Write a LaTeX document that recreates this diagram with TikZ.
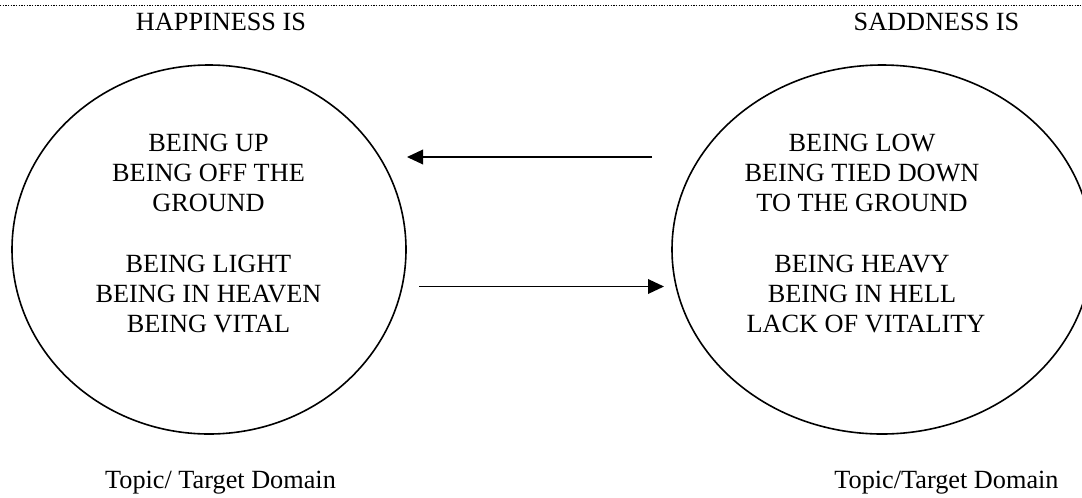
\documentclass[tikz,border=0pt]{standalone}
\usepackage{fontspec}
\setmainfont{Liberation Serif}
\usetikzlibrary{arrows.meta,shapes.geometric}
\begin{document}
\begin{tikzpicture}[x=0.75pt,y=-0.75pt,
  txt/.style={font=\fontsize{19.7}{22.7}\selectfont, inner sep=0pt, anchor=base},
  domainellipse/.style={draw, ellipse, line width=1.2pt, inner sep=0pt},
  conn/.style={line width=1pt, -{Triangle[length=12pt,width=11pt]}}]
\useasboundingbox (0,0) rectangle (1082,497);
\clip (0,0) rectangle (1082,497);
\draw[densely dotted, line width=1pt] (0,5.5) -- (1082,5.5);
\node[txt] (hT) at (221,30) {HAPPINESS IS};
\node[txt] (sT) at (936.5,30) {SADDNESS IS};
\node[domainellipse, minimum width=295.5pt, minimum height=276.75pt] (L) at (209,249.5) {};
\node[domainellipse, minimum width=315pt, minimum height=276.75pt] (R) at (882,249.5) {};
% left text block
\node[txt] (L1) at (208.5,151) {BEING UP};
\node[txt] (L2) at (208.5,181.3) {BEING OFF THE};
\node[txt] (L3) at (208.5,211.6) {GROUND};
\node[txt] (L4) at (208.5,272.2) {BEING LIGHT};
\node[txt] (L5) at (208.5,302.5) {BEING IN HEAVEN};
\node[txt] (L6) at (208.5,332.8) {BEING VITAL};
% right text block
\node[txt] (R1) at (862,151) {BEING LOW};
\node[txt] (R2) at (862,181.3) {BEING TIED DOWN};
\node[txt] (R3) at (862,211.6) {TO THE GROUND};
\node[txt] (R4) at (862,272.2) {BEING HEAVY};
\node[txt] (R5) at (862,302.5) {BEING IN HELL};
\node[txt] (R6) at (866,332.8) {LACK OF VITALITY};
\coordinate (a1s) at (652,157);
\coordinate (a1e) at (407,157);
\coordinate (a2s) at (419,286.5);
\coordinate (a2e) at (664,286.5);
\draw[conn] (a1s) -- (a1e);
\draw[conn] (a2s) -- (a2e);
\node[txt] (Ld) at (220.5,488) {Topic/ Target Domain};
\node[txt] (Rd) at (946.5,488) {Topic/Target Domain};
\end{tikzpicture}
\end{document}
